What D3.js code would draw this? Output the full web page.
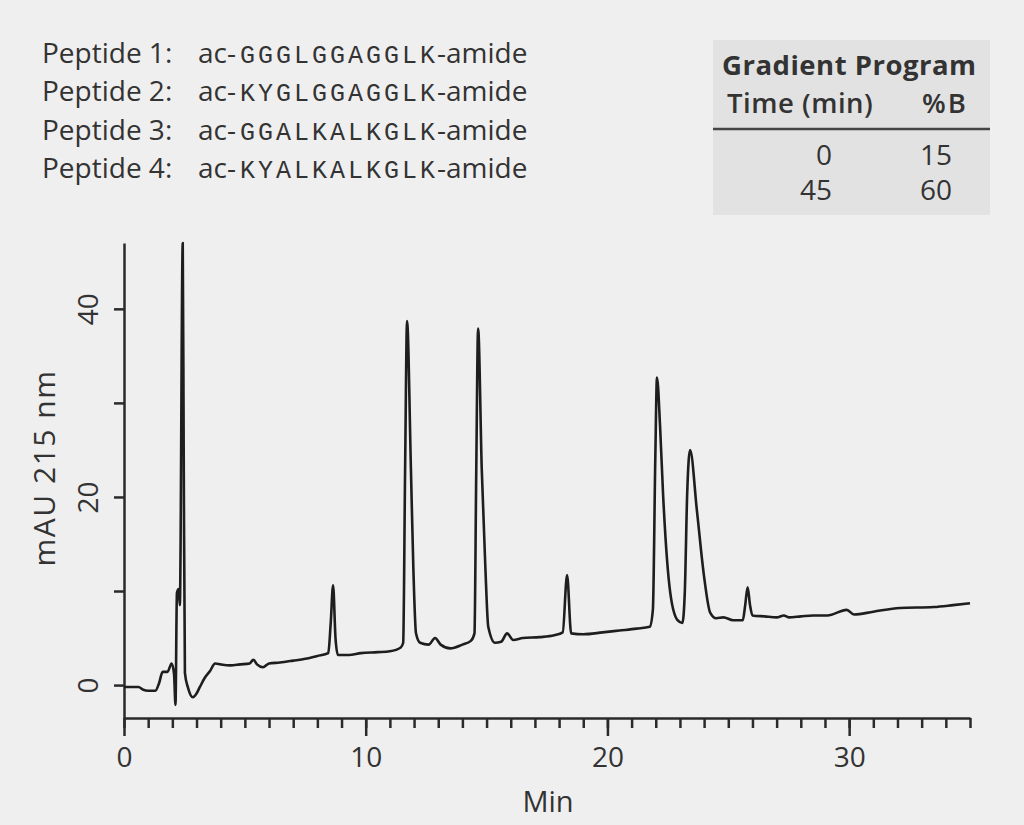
<!DOCTYPE html>
<html lang="en">
<meta charset="utf-8">
<head>
    <script src="https://d3js.org/d3.v7.min.js"></script>
    <style>
        body { margin: 0; background: #efefef; }
        svg { display: block; }
        text { font-family: "Open Sans", sans-serif; fill: #333; }
    </style>
</head>
<body>
<script>
// chromatogram trace (time in min, absorbance in mAU)
const minutes = [0, 0.6, 0.8, 1.0, 1.3, 1.45, 1.6, 1.8, 1.97, 2.07, 2.13, 2.19, 2.26, 2.31, 2.43, 2.47, 2.52,
    2.65, 2.85, 3.0, 3.14, 3.35, 3.56, 3.77, 4.0, 4.4, 4.8, 5.2, 5.35, 5.5, 5.75, 6.0, 6.45, 7.0, 7.5, 8.0,
    8.45, 8.55, 8.65, 8.75, 8.85, 9.3, 9.8, 10.5, 11.0, 11.45, 11.55, 11.63, 11.71, 11.87, 11.97, 12.08, 12.25,
    12.6, 12.87, 13.1, 13.5, 14.0, 14.35, 14.5, 14.57, 14.65, 14.8, 14.95, 15.07, 15.35, 15.6, 15.85, 16.1,
    16.5, 17.2, 17.8, 18.15, 18.33, 18.5, 19.0, 19.8, 20.5, 21.2, 21.75, 21.88, 21.98, 22.05, 22.18, 22.3,
    22.6, 22.9, 23.1, 23.2, 23.3, 23.42, 23.7, 24.0, 24.25, 24.5, 24.8, 25.2, 25.6, 25.7, 25.8, 25.9, 26.0,
    26.5, 27.0, 27.3, 27.5, 28.0, 28.5, 29.1, 29.9, 30.2, 31.0, 32.1, 33.5, 34.3, 35.0];
const mau = [-0.2, -0.2, -0.5, -0.6, -0.6, 0.2, 1.4, 1.4, 2.3, 1.2, -2.1, 9.8, 10.2, 8.5, 47, 25, 1.3,
    -0.3, -1.3, -0.9, -0.2, 0.8, 1.5, 2.3, 2.2, 2.1, 2.2, 2.3, 2.7, 2.2, 1.9, 2.3, 2.4, 2.6, 2.8, 3.1,
    3.4, 6.5, 10.6, 5.0, 3.2, 3.2, 3.4, 3.5, 3.6, 4.0, 4.5, 23, 38.7, 23, 12.5, 5.5, 4.5,
    4.3, 5.0, 4.3, 3.9, 4.3, 4.7, 5.5, 22, 37.9, 23, 12.5, 6.2, 4.5, 4.6, 5.5, 4.8,
    5.0, 5.1, 5.3, 5.6, 11.7, 5.5, 5.4, 5.6, 5.8, 6.0, 6.2, 8, 24, 32.7, 27.4, 20.4,
    9.8, 6.9, 6.6, 9.8, 20.4, 25.0, 18.6, 11.5, 7.7, 7.1, 7.2, 6.9, 6.9, 8.5, 10.4, 8.5, 7.4,
    7.3, 7.2, 7.4, 7.2, 7.3, 7.4, 7.4, 8.0, 7.5, 7.8, 8.2, 8.3, 8.5, 8.7];

const xMajor = [0, 10, 20, 30];
const xMinor = d3.range(0, 36);
const yTicks = [0, 10, 20, 30, 40];
const yLabelled = [0, 20, 40];

const peptideNames = ["Peptide 1:", "Peptide 2:", "Peptide 3:", "Peptide 4:"];
const peptideSeqs = ["GGGLGGAGGLK", "KYGLGGAGGLK", "GGALKALKGLK", "KYALKALKGLK"];

const gradTime = [0, 45];
const gradB = [15, 60];

const W = 1024, H = 825;
const svg = d3.select("body").append("svg")
    .attr("width", W).attr("height", H);

svg.append("rect").attr("width", W).attr("height", H).attr("fill", "#efefef");

// scales
const x = d3.scaleLinear().domain([0, 35]).range([124, 970]);
const y = d3.scaleLinear().domain([-3.5, 47]).range([718, 243]);

// peptide list
const pep = svg.append("g");
peptideNames.forEach((name, i) => {
    const by = 63 + i * 38.3;
    pep.append("text").attr("x", 42).attr("y", by).attr("font-size", 28).text(name);
    pep.append("text").attr("x", 198).attr("y", by).attr("font-size", 28).text("ac-");
    pep.append("text").attr("x", 240).attr("y", by)
        .style("font-family", "'Liberation Mono', monospace")
        .attr("font-size", 25).attr("letter-spacing", 3)
        .text(peptideSeqs[i]);
    pep.append("text").attr("x", 437).attr("y", by).attr("font-size", 28).text("-amide");
});

// gradient table
const tbl = svg.append("g");
tbl.append("rect").attr("x", 713).attr("y", 40).attr("width", 277).attr("height", 175)
    .attr("fill", "#e2e2e2");
tbl.append("text").attr("x", 722).attr("y", 75).attr("font-size", 27.5)
    .attr("font-weight", 700).attr("letter-spacing", 0.5).text("Gradient Program");
tbl.append("text").attr("x", 727).attr("y", 113).attr("font-size", 27.5)
    .attr("font-weight", 600).attr("letter-spacing", 0.5).text("Time (min)");
tbl.append("text").attr("x", 968).attr("y", 113).attr("font-size", 27.5)
    .attr("font-weight", 600).attr("text-anchor", "end").attr("letter-spacing", 2).text("%B");
tbl.append("line").attr("x1", 713).attr("x2", 990).attr("y1", 129).attr("y2", 129)
    .attr("stroke", "#444").attr("stroke-width", 2.5);
gradTime.forEach((t, i) => {
    const by = 165 + i * 35;
    tbl.append("text").attr("x", 832).attr("y", by).attr("font-size", 28)
        .attr("text-anchor", "end").text(t);
    tbl.append("text").attr("x", 952).attr("y", by).attr("font-size", 28)
        .attr("text-anchor", "end").text(gradB[i]);
});

// x axis: minor ticks then major ticks with labels
const gxMinor = svg.append("g")
    .attr("transform", "translate(0,718)")
    .call(d3.axisBottom(x).tickValues(xMinor).tickSize(10).tickSizeOuter(0).tickFormat(""));
const gxMajor = svg.append("g")
    .attr("transform", "translate(0,718)")
    .call(d3.axisBottom(x).tickValues(xMajor).tickSize(18).tickSizeOuter(0).tickPadding(11));
gxMajor.select(".domain").remove();
gxMajor.selectAll("text").attr("font-size", 28).attr("font-family", "'Open Sans', sans-serif")
    .attr("fill", "#333");

// y axis
const gy = svg.append("g")
    .attr("transform", "translate(124,0)")
    .call(d3.axisLeft(y).tickValues(yTicks).tickSize(10).tickSizeOuter(0)
        .tickFormat(d => yLabelled.includes(d) ? d : ""));
gy.selectAll("text")
    .attr("font-size", 28).attr("font-family", "'Open Sans', sans-serif").attr("fill", "#333")
    .attr("text-anchor", "middle")
    .attr("transform", "translate(-36,0) rotate(-90)")
    .attr("x", 0).attr("y", 0)
    .attr("dy", "0.36em");

[gxMinor, gxMajor, gy].forEach(g => {
    g.selectAll("line, path").attr("stroke", "#2a2a2a").attr("stroke-width", 2.5);
});

// axis titles
svg.append("text").attr("transform", "translate(55,468) rotate(-90)")
    .attr("text-anchor", "middle").attr("font-size", 30).attr("letter-spacing", 1.5)
    .text("mAU 215 nm");
svg.append("text").attr("x", 548).attr("y", 812)
    .attr("text-anchor", "middle").attr("font-size", 29).text("Min");

// trace
const pts = minutes.map((t, i) => ({ t: t, v: mau[i] }));
svg.append("path")
    .datum(pts)
    .attr("fill", "none")
    .attr("stroke", "#1e1e1e")
    .attr("stroke-width", 2.6)
    .attr("stroke-linejoin", "round")
    .attr("d", d3.line()
        .x(d => x(d.t))
        .y(d => y(d.v))
        .curve(d3.curveMonotoneX));
</script>
</body>
</html>
